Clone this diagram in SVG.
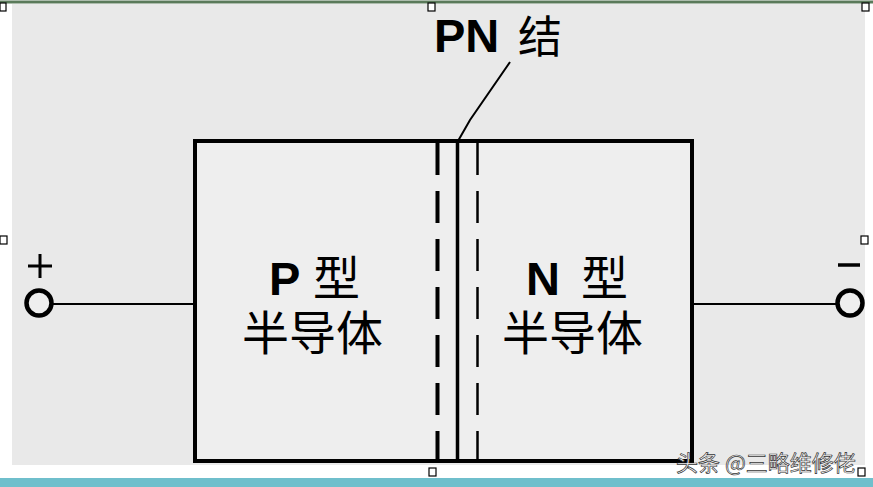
<svg xmlns="http://www.w3.org/2000/svg" width="873" height="487" viewBox="0 0 873 487">
<style>
.t{font-family:"Liberation Sans","Noto Sans CJK SC",sans-serif;fill:#000;}
.lat{font-weight:bold;}
.cjk{font-family:"Noto Sans CJK SC",sans-serif;font-weight:400;}
.big{font-size:47px;}
.h{fill:#fff;stroke:#000;stroke-width:1.2;}
.w{stroke:#000;fill:none;}
</style>
<rect x="0" y="0" width="873" height="487" fill="#ffffff"/>
<rect x="12" y="4" width="853" height="461" fill="#e9e9e9"/>
<line x1="0" y1="2" x2="873" y2="2" stroke="#5a7a5a" stroke-width="3"/>
<rect x="0" y="478" width="873" height="9" fill="#6fbfcc"/>
<g id="handles">
<rect class="h" x="0" y="3" width="6" height="8"/>
<rect class="h" x="428" y="3" width="7" height="8"/>
<rect class="h" x="862" y="3" width="7" height="8"/>
<rect class="h" x="0" y="236" width="7" height="8"/>
<rect class="h" x="861" y="236" width="7" height="8"/>
<rect class="h" x="429" y="468" width="7" height="8"/>
<rect class="h" x="858" y="468" width="7" height="8"/>
</g>
<g id="box">
<rect x="195" y="141" width="497" height="320" fill="#eeeeee" stroke="#000" stroke-width="4"/>
</g>
<g id="connectors">
<line class="w" x1="457.5" y1="141" x2="457.5" y2="461" stroke-width="3.5"/>
<line class="w" x1="437.5" y1="143" x2="437.5" y2="461" stroke-width="4" stroke-dasharray="32 16"/>
<line class="w" x1="477.5" y1="143" x2="477.5" y2="461" stroke-width="2.5" stroke-dasharray="32 16"/>
<path class="w" d="M458 141 L470 120 L510 62" stroke-width="2"/>
<line class="w" x1="52" y1="304" x2="195" y2="304" stroke-width="2"/>
<line class="w" x1="692" y1="304" x2="838" y2="304" stroke-width="2"/>
</g>
<g id="terminal-left">
<circle cx="39" cy="303" r="12.5" fill="#eeeeee" stroke="#000" stroke-width="4.5"/>
<path class="w" d="M28 266 H52 M40 254 V278" stroke-width="3"/>
</g>
<g id="terminal-right">
<circle cx="850" cy="303" r="12.5" fill="#eeeeee" stroke="#000" stroke-width="4.5"/>
<line class="w" x1="838" y1="265" x2="860" y2="265" stroke-width="3.5"/>
</g>
<g id="label-pn">
<text class="t lat" x="434" y="52" font-size="47">PN</text>
<text class="t cjk" x="518" y="53" font-size="44">结</text>
</g>
<g id="p-region">
<text class="t big" y="295"><tspan class="lat" x="269">P</tspan><tspan class="cjk" x="313">型</tspan></text>
<text class="t big cjk" x="242" y="350">半导体</text>
</g>
<g id="n-region">
<text class="t big" y="295"><tspan class="lat" x="526">N</tspan><tspan class="cjk" x="581">型</tspan></text>
<text class="t big cjk" x="502" y="350">半导体</text>
</g>
<text x="676" y="471" font-family="'Noto Sans CJK SC',sans-serif" font-size="22" fill="#fff" stroke="#333" stroke-width="0.7">头条 @三略维修佬</text>
</svg>
